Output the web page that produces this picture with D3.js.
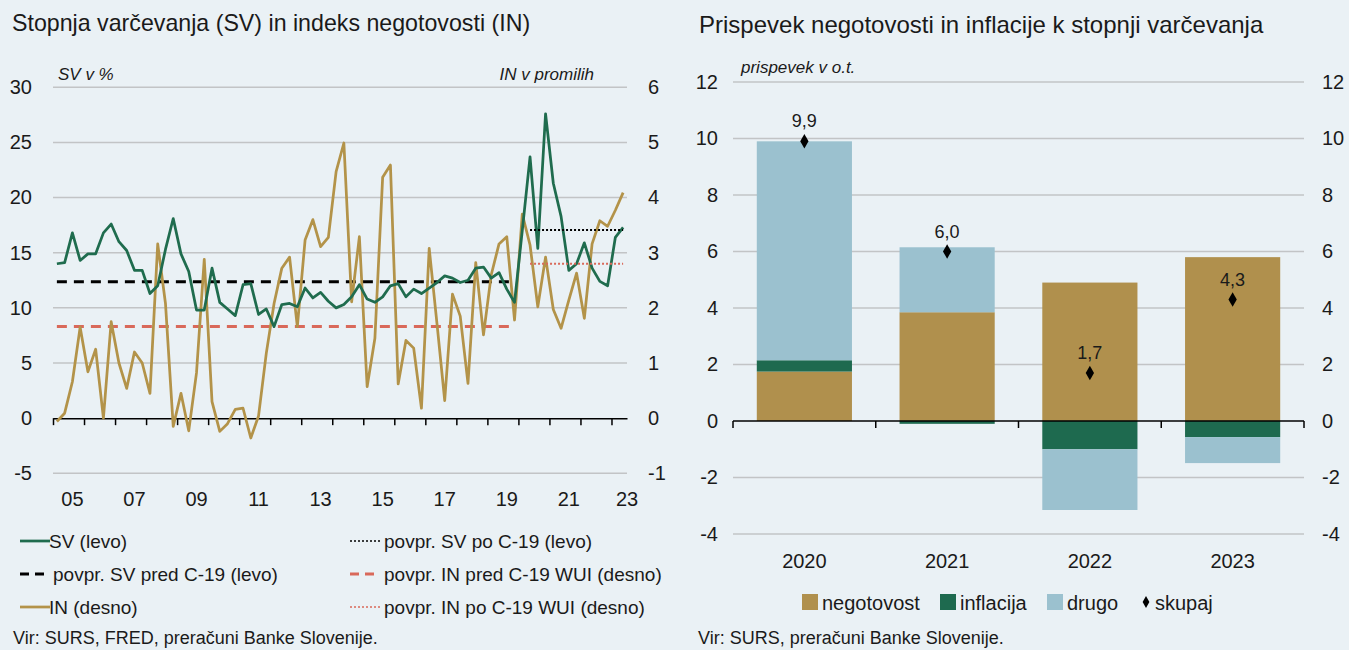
<!DOCTYPE html>
<html lang="sl">
<head>
<meta charset="UTF-8">
<title>Stopnja varčevanja in negotovost</title>
<style>
    body {
        margin: 0;
        background: #eaf1f5;
    }
    svg {
        display: block;
        font-family: "Liberation Sans", Arial, sans-serif;
    }
    text {
        fill: #1a1a1a;
    }
</style>
</head>
<body>
<div id="chart"></div>
<script src="https://d3js.org/d3.v7.min.js"></script>
<script>
    // levi graf: četrtletni podatki od 2005Q1 naprej
    const startYear = 2005
    const svRate = [
        14.0, 14.1, 16.8, 14.3, 14.9, 14.9, 16.8, 17.6, 16.0, 15.2,
        13.4, 13.4, 11.3, 12.0, 15.3, 18.1, 14.9, 13.3, 9.8, 9.8,
        13.6, 10.5, 9.9, 9.3, 12.1, 12.2, 9.4, 9.9, 8.3, 10.3,
        10.4, 10.1, 11.8, 10.9, 11.4, 10.6, 10.0, 10.3, 11.0, 12.1,
        10.8, 10.5, 11.0, 12.0, 12.2, 11.0, 11.7, 11.3, 11.8, 12.3,
        12.9, 12.7, 12.3, 12.5, 13.6, 13.7, 12.7, 13.2, 11.7, 10.5,
        17.0, 23.7, 15.4, 27.6, 21.3, 18.3, 13.4, 14.0, 15.9, 13.6,
        12.4, 12.0, 16.4, 17.3
    ]
    const inIndex = [
        -0.06, 0.09, 0.66, 1.65, 0.84, 1.25, 0.0, 1.75, 1.0, 0.54,
        1.2, 1.0, 0.45, 3.16, 2.08, -0.15, 0.45, -0.23, 0.82, 2.88,
        0.30, -0.24, -0.10, 0.16, 0.18, -0.36, 0.04, 1.18, 2.08, 2.72,
        2.92, 1.66, 3.23, 3.6, 3.11, 3.28, 4.47, 4.99, 2.11, 3.29,
        0.57, 1.45, 4.37, 4.59, 0.62, 1.41, 1.27, 0.18, 3.08, 1.72,
        0.32, 2.25, 1.85, 0.63, 2.82, 1.51, 2.6, 3.16, 3.29, 1.78,
        3.70, 3.14, 2.02, 2.92, 1.97, 1.63, 2.14, 2.63, 1.81, 3.16,
        3.58, 3.48, 3.77, 4.09
    ]
    // povprečja: [vrednost, prvo četrtletje, zadnje četrtletje]
    const svPreCovid = [12.37, 0, 59]
    const inPreCovid = [1.66, 0, 59]
    const svPostCovid = [17.06, 61, 73]
    const inPostCovid = [2.8, 61, 73]
    const yearLabels = ['05', '07', '09', '11', '13', '15', '17', '19', '21', '23']

    // desni graf
    const years = ['2020', '2021', '2022', '2023']
    const negotovost = [1.75, 3.85, 4.9, 5.8]
    const inflacija = [0.4, -0.1, -1.0, -0.57]
    const drugo = [7.75, 2.3, -2.15, -0.92]
    const skupaj = [9.9, 6.0, 1.7, 4.3]

    const colors = {
        sv: '#1f6c4e',
        in: '#b39349',
        red: '#d9695a',
        grid: '#c2c4c6',
        negotovost: '#b0904d',
        inflacija: '#1e6a4f',
        drugo: '#9bc1cf'
    }

    // navaden minus namesto unicode znaka
    const plain = d => String(d)

    const svg = d3.select('#chart')
        .append('svg')
        .attr('width', 1349)
        .attr('height', 650)

    // ---------- levi graf ----------
    const left = { x0: 53, x1: 627, yTop: 87.3, yBottom: 473.3 }
    const x = d3.scaleLinear()
        .domain([-0.5, svRate.length - 0.5])
        .range([left.x0, left.x1])
    const yL = d3.scaleLinear().domain([-5, 30]).range([left.yBottom, left.yTop])
    const yR = d3.scaleLinear().domain([-1, 6]).range([left.yBottom, left.yTop])

    svg.append('text')
        .attr('x', 12).attr('y', 31)
        .attr('font-size', 23.2)
        .text('Stopnja varčevanja (SV) in indeks negotovosti (IN)')

    const gl = svg.append('g')

    gl.selectAll('.grid')
        .data(d3.range(-5, 31, 5).filter(d => d !== 0))
        .enter()
        .append('line')
        .attr('x1', left.x0).attr('x2', left.x1)
        .attr('y1', d => yL(d)).attr('y2', d => yL(d))
        .attr('stroke', colors.grid)
        .attr('stroke-width', 1.5)

    const axL = gl.append('g')
        .attr('transform', `translate(${left.x0},0)`)
        .call(d3.axisLeft(yL).tickValues(d3.range(-5, 31, 5)).tickFormat(plain).tickSize(0).tickPadding(21))
    const axR = gl.append('g')
        .attr('transform', `translate(${left.x1},0)`)
        .call(d3.axisRight(yR).tickValues(d3.range(-1, 7, 1)).tickFormat(plain).tickSize(0).tickPadding(21))
    ;[axL, axR].forEach(a => {
        a.select('.domain').remove()
        a.selectAll('text').attr('font-size', 20).attr('fill', '#1a1a1a')
    })

    gl.append('text').attr('x', 58).attr('y', 80)
        .attr('font-size', 17).attr('font-style', 'italic').text('SV v %')
    gl.append('text').attr('x', 594).attr('y', 80)
        .attr('font-size', 17).attr('font-style', 'italic').attr('text-anchor', 'end').text('IN v promilih')

    // os x
    const axX = gl.append('g')
        .attr('transform', `translate(0,${yL(0)})`)
        .call(d3.axisBottom(x)
            .tickValues(d3.range(-0.5, svRate.length - 1, 4))
            .tickSize(7)
            .tickSizeOuter(0)
            .tickFormat(''))
    axX.select('.domain').attr('stroke', '#000').attr('stroke-width', 1.5)
    axX.selectAll('.tick line').attr('stroke', '#000').attr('stroke-width', 1.5)

    gl.selectAll('.xlabel')
        .data(yearLabels)
        .enter()
        .append('text')
        .attr('x', (d, i) => x(Math.min(i * 8 + 2, svRate.length - 0.5)))
        .attr('y', 506)
        .attr('text-anchor', 'middle')
        .attr('font-size', 20)
        .text(d => d)

    // povprečja
    const avgLine = (g, avg, scale, color, dash, width) => g.append('line')
        .attr('x1', x(avg[1])).attr('x2', x(avg[2]))
        .attr('y1', scale(avg[0])).attr('y2', scale(avg[0]))
        .attr('stroke', color)
        .attr('stroke-width', width)
        .attr('stroke-dasharray', dash)

    avgLine(gl, svPreCovid, yL, '#000', '10 7', 3)
    avgLine(gl, inPreCovid, yR, colors.red, '10 7', 3)

    const lineSV = d3.line().x((d, i) => x(i)).y(d => yL(d))
    const lineIN = d3.line().x((d, i) => x(i)).y(d => yR(d))

    gl.append('path')
        .attr('d', lineIN(inIndex))
        .attr('fill', 'none')
        .attr('stroke', colors.in)
        .attr('stroke-width', 2.75)
        .attr('stroke-linejoin', 'round')
    gl.append('path')
        .attr('d', lineSV(svRate))
        .attr('fill', 'none')
        .attr('stroke', colors.sv)
        .attr('stroke-width', 2.75)
        .attr('stroke-linejoin', 'round')

    avgLine(gl, svPostCovid, yL, '#000', '2 2', 2)
    avgLine(gl, inPostCovid, yR, colors.red, '2 2', 2)

    // legenda levo
    const legL = [
        { t: 'SV (levo)', c: colors.sv, dash: null, w: 2.75, x: 20, y: 541, tx: 49 },
        { t: 'povpr. SV pred C-19 (levo)', c: '#000', dash: '9 6', w: 3, x: 20, y: 574, tx: 53 },
        { t: 'IN (desno)', c: colors.in, dash: null, w: 2.75, x: 20, y: 607, tx: 49 },
        { t: 'povpr. SV po C-19 (levo)', c: '#000', dash: '2 2', w: 1.5, x: 350, y: 541, tx: 384 },
        { t: 'povpr. IN pred C-19 WUI (desno)', c: colors.red, dash: '9 6', w: 3, x: 350, y: 574, tx: 384 },
        { t: 'povpr. IN po C-19 WUI (desno)', c: colors.red, dash: '2 2', w: 1.5, x: 350, y: 607, tx: 384 }
    ]
    const lg = gl.selectAll('.legl').data(legL).enter().append('g')
    lg.append('line')
        .attr('x1', d => d.x).attr('x2', d => d.x + 30)
        .attr('y1', d => d.y).attr('y2', d => d.y)
        .attr('stroke', d => d.c)
        .attr('stroke-width', d => d.w)
        .attr('stroke-dasharray', d => d.dash)
    lg.append('text')
        .attr('x', d => d.tx).attr('y', d => d.y + 7)
        .attr('font-size', 19)
        .text(d => d.t)

    svg.append('text').attr('x', 13).attr('y', 644)
        .attr('font-size', 18)
        .text('Vir: SURS, FRED, preračuni Banke Slovenije.')

    // ---------- desni graf ----------
    const right = { x0: 733, x1: 1304 }
    const xb = d3.scaleBand()
        .domain(years)
        .range([right.x0, right.x1])
        .paddingInner(1 / 3)
        .paddingOuter(1 / 6)
    const yb = d3.scaleLinear().domain([-4, 12]).range([534, 82])

    svg.append('text')
        .attr('x', 699).attr('y', 33)
        .attr('font-size', 24)
        .text('Prispevek negotovosti in inflacije k stopnji varčevanja')

    const gr = svg.append('g')

    gr.selectAll('.gridr')
        .data(d3.range(-4, 13, 2).filter(d => d !== 0))
        .enter()
        .append('line')
        .attr('x1', right.x0).attr('x2', right.x1)
        .attr('y1', d => yb(d)).attr('y2', d => yb(d))
        .attr('stroke', colors.grid)
        .attr('stroke-width', 1.5)

    const axbL = gr.append('g')
        .attr('transform', `translate(${right.x0},0)`)
        .call(d3.axisLeft(yb).tickValues(d3.range(-4, 13, 2)).tickFormat(plain).tickSize(0).tickPadding(15))
    const axbR = gr.append('g')
        .attr('transform', `translate(${right.x1},0)`)
        .call(d3.axisRight(yb).tickValues(d3.range(-4, 13, 2)).tickFormat(plain).tickSize(0).tickPadding(18))
    ;[axbL, axbR].forEach(a => {
        a.select('.domain').remove()
        a.selectAll('text').attr('font-size', 20).attr('fill', '#1a1a1a')
    })

    gr.append('text').attr('x', 741).attr('y', 73)
        .attr('font-size', 17).attr('font-style', 'italic').text('prispevek v o.t.')

    const rows = years.map((y, i) => ({
        year: y,
        negotovost: negotovost[i],
        inflacija: inflacija[i],
        drugo: drugo[i]
    }))
    const keys = ['negotovost', 'inflacija', 'drugo']
    const series = d3.stack().keys(keys).offset(d3.stackOffsetDiverging)(rows)

    gr.selectAll('.series')
        .data(series)
        .enter()
        .append('g')
        .attr('fill', d => colors[d.key])
        .selectAll('rect')
        .data(d => d)
        .enter()
        .append('rect')
        .attr('x', d => xb(d.data.year))
        .attr('width', xb.bandwidth())
        .attr('y', d => yb(Math.max(d[0], d[1])))
        .attr('height', d => Math.abs(yb(d[0]) - yb(d[1])))

    const step = xb.step()
    const axbX = gr.append('g')
        .attr('transform', `translate(0,${yb(0)})`)
    axbX.append('line')
        .attr('x1', right.x0).attr('x2', right.x1)
        .attr('stroke', '#000').attr('stroke-width', 1.5)
    axbX.selectAll('.tk')
        .data(d3.range(0, years.length + 1))
        .enter()
        .append('line')
        .attr('x1', d => right.x0 + d * step).attr('x2', d => right.x0 + d * step)
        .attr('y1', 0).attr('y2', 7)
        .attr('stroke', '#000').attr('stroke-width', 1.5)

    gr.selectAll('.yearlabel')
        .data(years)
        .enter()
        .append('text')
        .attr('x', d => xb(d) + xb.bandwidth() / 2)
        .attr('y', 568)
        .attr('text-anchor', 'middle')
        .attr('font-size', 20)
        .text(d => d)

    const diamond = d3.symbol().type(d3.symbolDiamond).size(60)
    gr.selectAll('.tot')
        .data(skupaj)
        .enter()
        .append('path')
        .attr('d', diamond)
        .attr('transform', (d, i) => `translate(${xb(years[i]) + xb.bandwidth() / 2},${yb(d)})`)
        .attr('fill', '#000')
    gr.selectAll('.totlabel')
        .data(skupaj)
        .enter()
        .append('text')
        .attr('x', (d, i) => xb(years[i]) + xb.bandwidth() / 2)
        .attr('y', d => yb(d) - 14)
        .attr('text-anchor', 'middle')
        .attr('font-size', 18)
        .text(d => d3.format('.1f')(d).replace('.', ','))

    // legenda desno
    const legR = [
        { k: 'negotovost', x: 802 },
        { k: 'inflacija', x: 940 },
        { k: 'drugo', x: 1047 }
    ]
    const lr = gr.selectAll('.legr').data(legR).enter().append('g')
    lr.append('rect')
        .attr('x', d => d.x).attr('y', 594)
        .attr('width', 16).attr('height', 16)
        .attr('fill', d => colors[d.k])
    lr.append('text')
        .attr('x', d => d.x + 20).attr('y', 610)
        .attr('font-size', 20)
        .text(d => d.k)
    gr.append('path')
        .attr('d', d3.symbol().type(d3.symbolDiamond).size(40))
        .attr('transform', 'translate(1146,602)')
        .attr('fill', '#000')
    gr.append('text').attr('x', 1155).attr('y', 610)
        .attr('font-size', 20).text('skupaj')

    svg.append('text').attr('x', 698).attr('y', 644)
        .attr('font-size', 18)
        .text('Vir: SURS, preračuni Banke Slovenije.')
</script>
</body>
</html>
